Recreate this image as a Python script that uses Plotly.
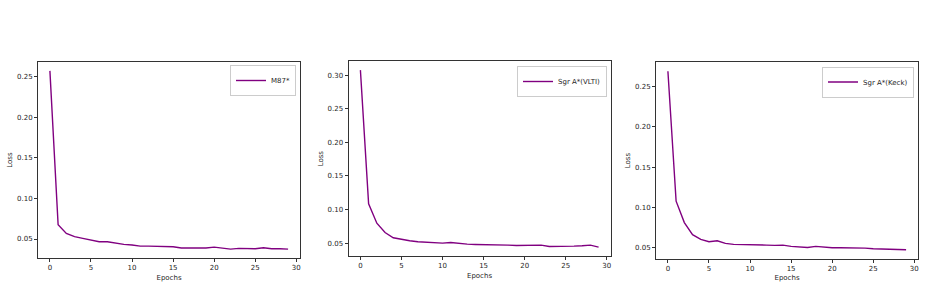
import plotly.graph_objects as go

epochs = list(range(30))

loss_m87 = [0.2574, 0.0677, 0.0570, 0.0529, 0.0508, 0.0490, 0.0467, 0.0467, 0.0446, 0.0434,
            0.0426, 0.0413, 0.0413, 0.0410, 0.0400, 0.0405, 0.0389, 0.0389, 0.0389, 0.0389,
            0.0400, 0.0389, 0.0376, 0.0385, 0.0380, 0.0380, 0.0393, 0.0380, 0.0380, 0.0376]

loss_vlti = [0.3074, 0.1084, 0.0797, 0.0658, 0.0579, 0.0554, 0.0535, 0.0520, 0.0510, 0.0505,
             0.0500, 0.0510, 0.0495, 0.0485, 0.0480, 0.0480, 0.0475, 0.0470, 0.0470, 0.0465,
             0.0465, 0.0465, 0.0470, 0.0450, 0.0450, 0.0446, 0.0455, 0.0460, 0.0470, 0.0440]

loss_keck = [0.2691, 0.1078, 0.0812, 0.0662, 0.0604, 0.0575, 0.0587, 0.0554, 0.0542, 0.0542,
             0.0533, 0.0537, 0.0533, 0.0529, 0.0533, 0.0517, 0.0508, 0.0504, 0.0517, 0.0504,
             0.0500, 0.0500, 0.0500, 0.0492, 0.0496, 0.0488, 0.0483, 0.0483, 0.0479, 0.0475]

names = ["M87*", "Sgr A*(VLTI)", "Sgr A*(Keck)"]
series = [loss_m87, loss_vlti, loss_keck]
x_ticks = [0, 5, 10, 15, 20, 25, 30]

W, H = 925, 287
# panel boxes in pixels: (left, right, top, bottom)
boxes = [(38, 300, 62, 258), (348.5, 610.5, 61.3, 256), (656, 918, 62.3, 258.7)]
legend_anchor = [(296, 65), (607, 66), (914, 66.5)]

FONT = "DejaVu Sans"
TXT = "#262626"
color = "#800080"

fig = go.Figure()
layout = dict(
    width=W, height=H, autosize=False,
    margin=dict(l=0, r=0, t=0, b=0),
    paper_bgcolor="white", plot_bgcolor="white",
    font=dict(family=FONT, size=7, color=TXT),
    showlegend=True,
)

for i, (name, ys) in enumerate(zip(names, series)):
    sfx = "" if i == 0 else str(i + 1)
    leg = "legend" if i == 0 else f"legend{i + 1}"
    fig.add_trace(go.Scatter(
        x=epochs, y=ys, mode="lines", name=name,
        line=dict(color=color, width=1.4),
        xaxis=f"x{sfx}", yaxis=f"y{sfx}", legend=leg,
    ))
    l, r, t, b = boxes[i]
    ymin, ymax = min(ys), max(ys)
    pad = 0.05 * (ymax - ymin)
    xmin, xmax = min(epochs), max(epochs)
    xpad = 0.05 * (xmax - xmin)
    layout[f"xaxis{sfx}"] = dict(
        domain=[l / W, r / W], anchor=f"y{sfx}",
        range=[xmin - xpad, xmax + xpad],
        tickvals=x_ticks, ticks="outside", ticklen=3, tickwidth=0.8, tickcolor="#333",
        showline=True, mirror=True, linecolor="#333", linewidth=0.8,
        showgrid=False, zeroline=False,
        title=dict(text="Epochs", standoff=3, font=dict(size=7)),
        tickfont=dict(size=7, color=TXT),
    )
    layout[f"yaxis{sfx}"] = dict(
        domain=[(H - b) / H, (H - t) / H], anchor=f"x{sfx}",
        range=[ymin - pad, ymax + pad],
        dtick=0.05, tick0=0, tickformat=".2f",
        ticks="outside", ticklen=3, tickwidth=0.8, tickcolor="#333",
        showline=True, mirror=True, linecolor="#333", linewidth=0.8,
        showgrid=False, zeroline=False,
        title=dict(text="Loss", standoff=3, font=dict(size=7)),
        tickfont=dict(size=7, color=TXT),
    )
    ax, ay = legend_anchor[i]
    layout[leg] = dict(
        x=ax / W, y=(H - ay) / H, xanchor="right", yanchor="top",
        bgcolor="white", bordercolor="#cccccc", borderwidth=1,
        font=dict(size=7, color=TXT), itemwidth=30,
        tracegroupgap=0,
    )

fig.update_layout(**layout)
fig.write_html("out.html")
